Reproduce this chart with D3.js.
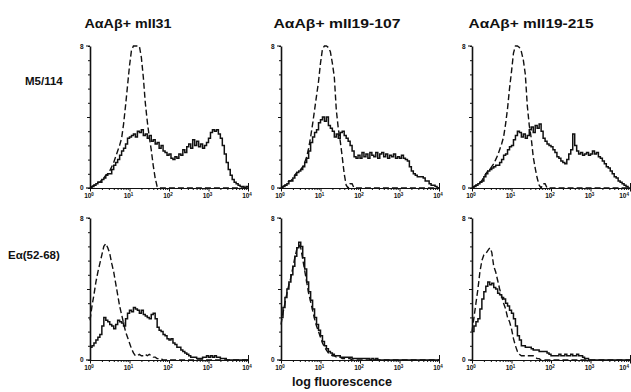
<!DOCTYPE html>
<html>
<head>
<meta charset="utf-8">
<script src="https://cdn.jsdelivr.net/npm/d3@7"></script>
<style>
  body { margin: 0; background: #fff; }
  svg { display: block; font-family: "Liberation Sans", Arial, sans-serif; }
  .title { font-weight: bold; font-size: 13px; fill: #111; }
  .rowlabel { font-weight: bold; font-size: 11.5px; fill: #111; }
  .xlabel { font-weight: bold; font-size: 13px; fill: #111; }
  .ticklab { font-weight: bold; font-size: 6.5px; fill: #111; }
  .axis path, .axis line { stroke: #111; }
  .solid { fill: none; stroke: #111; stroke-width: 1.5; }
  .dashed { fill: none; stroke: #111; stroke-width: 1.4; stroke-dasharray: 6,3; }
</style>
</head>
<body>
<svg id="chart" width="631" height="392"></svg>
<script>
// histogram heights (% of axis height), one bin every 0.05 decade from 10^0
const m5Mii31Solid = [0,1,2,3,4,4,6,7,9,10, 10,13,16,18,20,23,26,28,31,35, 36,37,38,36,40,39,41,37,38,35,
  37,33,34,31,32,28,30,26,25,23, 24,21,20,22,21,24,23,27,25,29, 31,28,34,30,33,29,31,28,30,32,
  35,39,41,40,41,38,35,30,24,18, 13,9,6,4,3,2,1,1,0,1, 0];
const m5Mii31Dashed = [0,1,2,3,4,4,6,7,9,10, 12,15,18,22,26,30,35,45,58,72, 86,97,100,100,100,100,92,78,60,47,
  36,27,16,7,1,0];
const m5Mii107Solid = [0,1,2,3,5,5,7,9,11,12, 13,15,18,21,26,32,36,39,41,46, 48,50,47,50,44,42,40,36,38,35,
  39,40,37,35,33,30,26,22,21,23, 21,25,22,24,21,25,23,22,25,21, 24,25,22,24,21,23,22,24,21,22,
  21,23,21,20,19,15,12,10,9,8, 8,8,7,5,5,3,2,2,1,0, 0];
const m5Mii107Dashed = [0,1,2,3,5,5,7,9,11,12, 13,15,18,22,28,36,45,55,65,75, 88,98,100,100,99,96,88,78,55,42,
  33,22,10,2,0,3,3,0];
const m5Mii215Solid = [0,1,2,3,4,5,8,10,12,13, 14,15,16,16,18,20,23,24,27,29, 30,34,37,40,39,36,38,35,37,41,
  43,39,44,42,45,40,35,33,31,30, 29,27,25,22,21,19,18,17,20,24, 27,38,30,26,24,25,23,24,25,23,
  24,26,24,25,22,21,19,17,15,14, 12,10,8,7,5,4,3,2,1,0, 0];
const m5Mii215Dashed = [0,1,2,3,4,5,8,10,12,13, 15,17,20,23,27,31,36,45,56,70, 82,95,100,100,99,96,90,80,58,44,
  35,22,14,7,2,0,3,3,0];
const eaMii31Solid = [9,10,12,14,16,18,24,30,28,27, 25,24,22,25,28,27,26,24,29,33, 35,34,37,36,35,33,35,32,31,30,
  29,32,33,29,23,21,20,18,17,15, 14,15,12,11,9,9,7,6,5,4, 3,2,2,2,1,1,1,2,2,3,
  2,3,2,3,2,2,1,1,1,0];
const eaMii31Dashed = [28,38,46,55,62,68,74,80,82,79, 75,68,62,54,46,38,32,26,20,16, 12,8,5,3,3,4,3,3,4,3,
  4,3,2,2,1,1,1,0];
const eaMii107Solid = [30,37,44,50,55,60,66,73,79,83, 80,72,64,55,48,42,36,30,25,21, 17,13,10,8,6,5,4,3,3,3,
  2,2,2,2,2,2,1,1,1,1, 1,1,1,1,1,0,1,0,1,0];
const eaMii107Dashed = [25,33,40,47,53,58,65,72,78,81, 79,71,63,55,47,41,35,29,24,20, 16,12,9,7,5,4,3,3,2,2,
  2,1,1,1,1,1,0];
const eaMii215Solid = [20,24,27,29,36,43,48,52,55,53, 54,51,50,47,46,44,43,40,38,35, 33,29,24,17,14,10,10,9,9,9,
  8,7,7,7,6,6,6,6,5,4, 3,3,3,3,4,3,3,4,3,3, 4,3,3,4,3,3,2,1,1,0];
const eaMii215Dashed = [20,30,40,50,62,70,74,75,77,79, 76,66,62,56,50,45,40,36,30,27, 22,15,10,6,4,3,3,3,3,3,
  3,3,2,1,1,0];

const columnTitles = ["AαAβ+ mII31", "AαAβ+ mII19-107", "AαAβ+ mII19-215"];
const rowLabels = ["M5/114", "Eα(52-68)"];
const decadeLabels = ["0", "1", "2", "3", "4"];
const yTopLabel = "8";
const yBottomLabel = "0";
const xAxisTitle = "log fluorescence";

const binStep = 0.05;
const nBins = 81;

const panels = [
  { row: 0, col: 0, solid: m5Mii31Solid, dashed: m5Mii31Dashed },
  { row: 0, col: 1, solid: m5Mii107Solid, dashed: m5Mii107Dashed },
  { row: 0, col: 2, solid: m5Mii215Solid, dashed: m5Mii215Dashed },
  { row: 1, col: 0, solid: eaMii31Solid, dashed: eaMii31Dashed },
  { row: 1, col: 1, solid: eaMii107Solid, dashed: eaMii107Dashed },
  { row: 1, col: 2, solid: eaMii215Solid, dashed: eaMii215Dashed }
];

const colX = [90, 281, 472];
const rowTop = [46, 218];
const plotW = 158;
const plotH = 142;

const svg = d3.select("#chart");

// titles over the columns
const titlePos = [{ x: 128, w: 87 }, { x: 337, w: 127 }, { x: 531, w: 125 }];
svg.selectAll(".title")
  .data(columnTitles)
  .enter().append("text")
  .attr("class", "title")
  .attr("x", (d, i) => titlePos[i].x)
  .attr("y", 28)
  .attr("text-anchor", "middle")
  .attr("textLength", (d, i) => titlePos[i].w)
  .attr("lengthAdjust", "spacingAndGlyphs")
  .text(d => d);

svg.append("text").attr("class", "rowlabel")
  .attr("x", 25).attr("y", 85).text(rowLabels[0]);
svg.append("text").attr("class", "rowlabel")
  .attr("x", 8).attr("y", 259).text(rowLabels[1]);

svg.append("text").attr("class", "xlabel")
  .attr("x", 342).attr("y", 386)
  .attr("text-anchor", "middle")
  .attr("textLength", 100)
  .attr("lengthAdjust", "spacingAndGlyphs")
  .text(xAxisTitle);

function toPoints(values) {
  // pad to the full range with empty bins
  const out = [];
  for (let i = 0; i < nBins; i++) {
    out.push({ v: Math.pow(10, i * binStep), c: i < values.length ? values[i] : 0 });
  }
  return out;
}

function drawPanel(p) {
  const x0 = colX[p.col];
  const y0 = rowTop[p.row];
  const g = svg.append("g").attr("transform", `translate(${x0},${y0})`);

  const x = d3.scaleLog().domain([1, 1e4]).range([0, plotW]);
  const y = d3.scaleLinear().domain([0, 100]).range([plotH, 0]);

  // y axis
  const yAxis = g.append("g").attr("class", "axis")
    .call(d3.axisLeft(y).tickValues(d3.range(0, 101, 10)).tickSize(2).tickSizeOuter(0).tickFormat(""));
  yAxis.select(".domain").attr("stroke-width", 1.6);
  yAxis.selectAll(".tick line").attr("x2", d => d === 50 ? -3 : -2);
  g.append("line").attr("x1", -4).attr("x2", 0).attr("y1", 0).attr("y2", 0)
    .attr("stroke", "#111").attr("stroke-width", 1);

  // x axis with log minor ticks
  const xAxis = g.append("g").attr("class", "axis")
    .attr("transform", `translate(0,${plotH})`)
    .call(d3.axisBottom(x).tickValues(x.ticks()).tickSize(2).tickSizeOuter(0).tickFormat(""));
  xAxis.select(".domain").attr("stroke-width", 1.2);
  xAxis.selectAll(".tick line")
    .attr("y1", d => (d === 1e4 ? -5 : 0))
    .attr("y2", d => (Math.log10(d) % 1 === 0 ? 3.5 : 2));
  g.append("line").attr("x1", -4).attr("x2", 0).attr("y1", plotH).attr("y2", plotH)
    .attr("stroke", "#111").attr("stroke-width", 1.2);

  // the last label of the right column would run off the page
  const lastCol = p.col === colX.length - 1;
  const labs = g.selectAll(".ticklab")
    .data(decadeLabels)
    .enter().append("text")
    .attr("class", "ticklab")
    .attr("x", d => (lastCol && d === "4") ? plotW - 1 : x(Math.pow(10, +d)) - 1)
    .attr("y", plotH + 10)
    .attr("text-anchor", d => (lastCol && d === "4") ? "end" : "middle");
  labs.append("tspan").text("10");
  labs.append("tspan").attr("dy", -2.5).attr("font-size", "4.5px").text(d => d);

  g.append("text").attr("class", "ticklab")
    .attr("x", -10).attr("y", 3).text(yTopLabel);
  g.append("text").attr("class", "ticklab")
    .attr("x", -10).attr("y", plotH + 2).text(yBottomLabel);

  const solidLine = d3.line()
    .x(d => x(d.v))
    .y(d => y(d.c))
    .curve(d3.curveStepAfter);
  const dashedLine = d3.line()
    .x(d => x(d.v))
    .y(d => y(d.c));

  g.append("path").datum(toPoints(p.dashed)).attr("class", "dashed").attr("d", dashedLine);
  g.append("path").datum(toPoints(p.solid)).attr("class", "solid").attr("d", solidLine);
}

panels.forEach(drawPanel);
</script>
</body>
</html>
